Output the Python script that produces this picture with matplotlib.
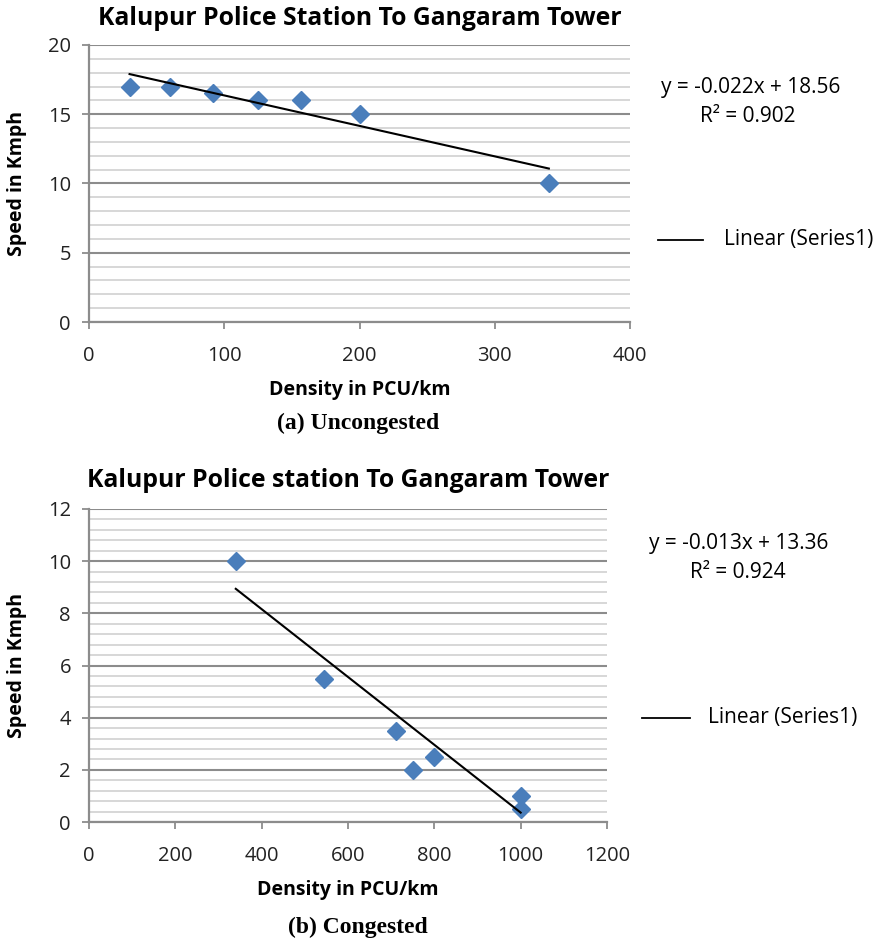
import matplotlib
matplotlib.use("Agg")
import matplotlib.pyplot as plt
import numpy as np
from matplotlib.ticker import MultipleLocator

plt.rcParams["font.family"] = ["Open Sans", "DejaVu Sans"]

# (a) uncongested
density_a = [30, 60, 92, 125, 157, 200, 340]
speed_a = [17, 17, 16.5, 16, 16, 15, 10]
slope_a, icept_a, r2_a = -0.022, 18.56, 0.902

# (b) congested
density_b = [340, 545, 712, 750, 800, 1000, 1000]
speed_b = [10, 5.5, 3.5, 2, 2.5, 1, 0.5]
slope_b, icept_b, r2_b = -0.013, 13.36, 0.924

MARKER_COLOR = "#4A7EBB"
MAJOR_GRID = "#8C8C8C"
MINOR_GRID = "#D4D4D4"

W, H = 886, 944
fig = plt.figure(figsize=(W / 100, H / 100), dpi=100)


def px(x, y):
    # pixel position (from top left) -> figure fraction
    return x / W, 1 - y / H


def draw_panel(box, xs, ys, slope, icept, r2, title, xmax, xstep, ymax, ystep, yminor,
               title_base, eq_xy, r2_xy, leg, caption, caption_base):
    left, top, right, bottom = box
    ax = fig.add_axes([left / W, 1 - bottom / H, (right - left) / W, (bottom - top) / H])
    ax.set_xlim(0, xmax)
    ax.set_ylim(0, ymax)
    ax.xaxis.set_major_locator(MultipleLocator(xstep))
    ax.yaxis.set_major_locator(MultipleLocator(ystep))
    ax.yaxis.set_minor_locator(MultipleLocator(yminor))
    ax.grid(axis="y", which="minor", color=MINOR_GRID, lw=1.3)
    ax.grid(axis="y", which="major", color=MAJOR_GRID, lw=1.5)
    ax.set_axisbelow(True)
    for side in ("top", "right"):
        ax.spines[side].set_visible(False)
    for side in ("left", "bottom"):
        ax.spines[side].set_color(MAJOR_GRID)
        ax.spines[side].set_linewidth(1.6)
    ax.tick_params(which="major", direction="out", length=5, width=1.3, color=MAJOR_GRID,
                   labelsize=14.5, labelcolor="#222222")
    ax.tick_params(axis="x", pad=12)
    ax.tick_params(axis="y", pad=8)
    ax.tick_params(which="minor", length=0)

    ax.plot(xs, ys, linestyle="none", marker="D", markersize=9,
            color=MARKER_COLOR, zorder=3)
    fx = np.array([min(xs), max(xs)])
    ax.plot(fx, slope * fx + icept, color="black", lw=1.5, zorder=4)

    ax.set_xlabel("Density in PCU/km", fontsize=14, fontweight="bold")
    ax.set_ylabel("Speed in Kmph", fontsize=14, fontweight="bold")
    ax.xaxis.set_label_coords(0.5, -68 / (bottom - top), transform=ax.transAxes)
    ax.yaxis.set_label_coords((17 - left) / (right - left), 0.5, transform=ax.transAxes)
    ax.xaxis.label.set_va("center")
    ax.yaxis.label.set_va("center")

    fig.text(*px((left + right) / 2, title_base), title, fontsize=17.8, fontweight="bold",
             ha="center", va="baseline")

    fig.text(*px(*eq_xy), f"y = {slope}x + {icept}", fontsize=15,
             ha="center", va="center")
    fig.text(*px(*r2_xy), f"R² = {r2}", fontsize=15,
             ha="center", va="center")
    lx0, lx1, ly, tx = leg
    x0, y0 = px(lx0, ly)
    x1, _ = px(lx1, ly)
    fig.add_artist(plt.Line2D([x0, x1], [y0, y0], color="black", lw=1.3))
    fig.text(*px(tx, ly), "Linear (Series1)", fontsize=15, va="center", ha="left")

    fig.text(*px(358, caption_base), caption, fontsize=17, fontweight="bold",
             family="Liberation Serif", ha="center", va="baseline")
    return ax


draw_panel((89, 45, 630, 322), density_a, speed_a, slope_a, icept_a, r2_a,
           "Kalupur Police Station To Gangaram Tower", 400, 100, 20, 5, 1,
           25, (751, 88), (748, 117), (658, 703, 240, 724),
           "(a) Uncongested", 429)

draw_panel((89, 509, 607, 822), density_b, speed_b, slope_b, icept_b, r2_b,
           "Kalupur Police station To Gangaram Tower", 1200, 200, 12, 2, 0.4,
           487, (739, 544), (738, 573), (642, 690, 718, 708),
           "(b) Congested", 933)

fig.savefig("out.png", dpi=100)
